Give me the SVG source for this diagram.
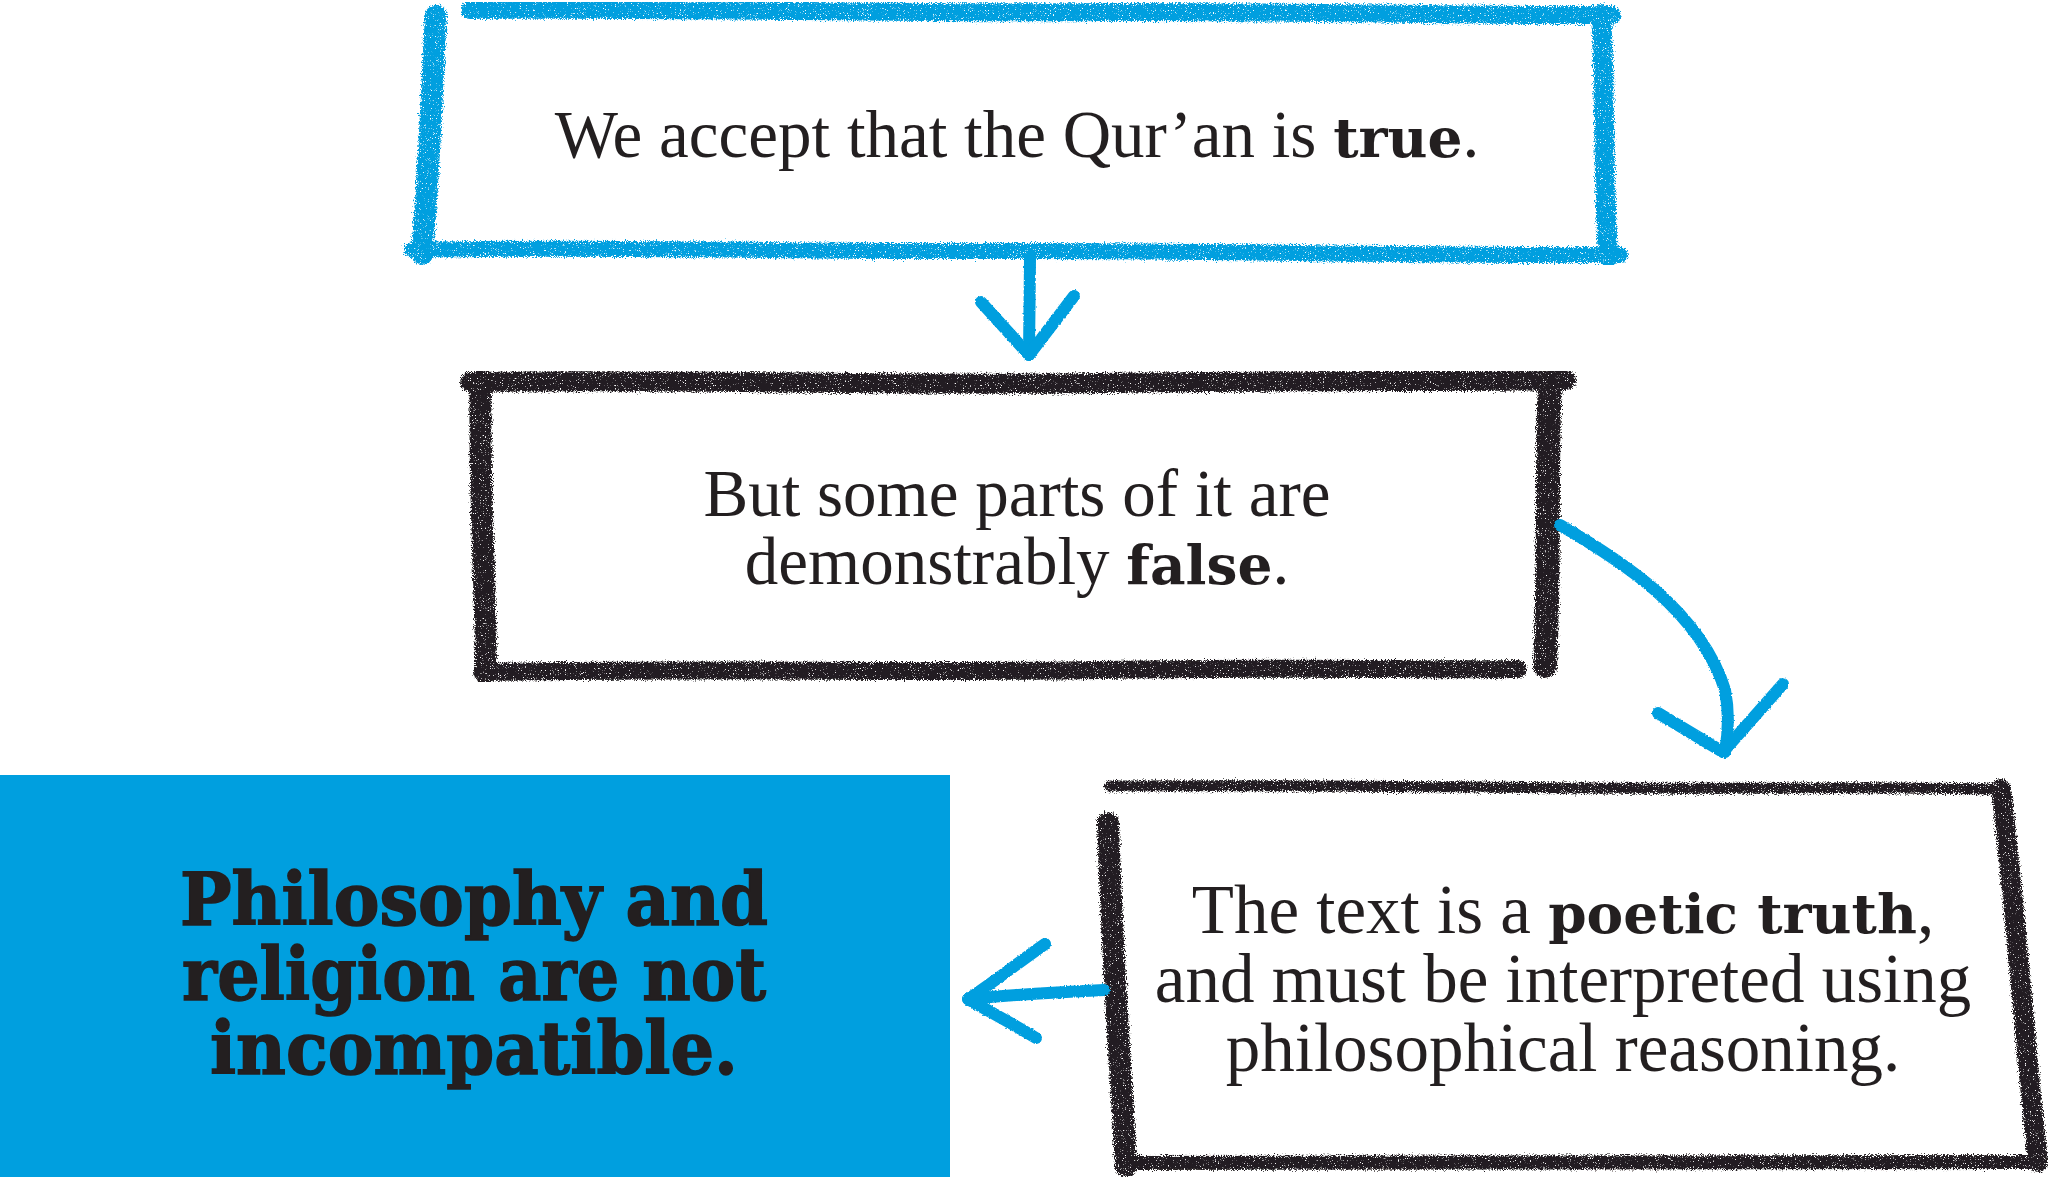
<svg xmlns="http://www.w3.org/2000/svg" width="2048" height="1177" viewBox="0 0 2048 1177">
<defs>
<filter id="crayon" x="-3%" y="-3%" width="106%" height="106%">
<feTurbulence type="fractalNoise" baseFrequency="0.9" numOctaves="2" seed="3" result="n"/>
<feDisplacementMap in="SourceGraphic" in2="n" scale="8" xChannelSelector="R" yChannelSelector="G" result="d"/>
<feTurbulence type="fractalNoise" baseFrequency="1.4" numOctaves="1" seed="9" result="g"/>
<feColorMatrix in="g" type="matrix" values="0 0 0 0 0  0 0 0 0 0  0 0 0 0 0  9 0 0 0 -2.3" result="ga"/>
<feComposite in="d" in2="ga" operator="in"/>
</filter>
<filter id="soft" x="-5%" y="-5%" width="110%" height="110%">
<feTurbulence type="fractalNoise" baseFrequency="0.6" numOctaves="1" seed="5" result="n"/>
<feDisplacementMap in="SourceGraphic" in2="n" scale="3" xChannelSelector="R" yChannelSelector="G"/>
</filter>
</defs>
<style>
.blue{fill:none;stroke:#009fdf;stroke-linecap:round;stroke-linejoin:round}
.black{fill:none;stroke:#231f20;stroke-linecap:round;stroke-linejoin:round}
.lt{font-family:"Liberation Serif","DejaVu Serif",serif;font-size:67px;fill:#231f20;text-anchor:middle}
.lt3{font-size:69px}
.bd{font-family:"DejaVu Serif",serif;font-weight:bold;font-size:55px}
.big{font-family:"DejaVu Serif",serif;font-weight:bold;font-size:72px;fill:#231f20;stroke:#231f20;stroke-width:1.5;text-anchor:middle}
.arrow{fill:none;stroke:#009fdf;stroke-width:12;stroke-linecap:round;stroke-linejoin:round}
</style>
<rect width="2048" height="1177" fill="#ffffff"/>

<g id="node1">
<g filter="url(#crayon)">
<path class="blue" stroke-width="18" d="M470,10 C700,8 900,14 1100,12 C1300,11 1450,16 1612,15"/>
<path class="blue" stroke-width="22" d="M436,16 C432,80 430,160 422,254"/>
<path class="blue" stroke-width="16" d="M412,250 C600,246 800,252 1000,251 C1200,250 1400,256 1620,255"/>
<path class="blue" stroke-width="20" d="M1601,14 C1605,80 1603,170 1608,257"/>
</g>
<text class="lt" x="1017" y="157">We accept that the Qur’an is <tspan class="bd">true</tspan>.</text>
</g>

<g id="node2">
<g filter="url(#crayon)">
<path class="black" stroke-width="20" d="M470,382 C700,379 900,386 1100,383 C1300,380 1450,382 1566,380"/>
<path class="black" stroke-width="22" d="M481,380 C478,480 486,580 486,673"/>
<path class="black" stroke-width="18" d="M482,672 C700,668 900,673 1100,670 C1300,667 1420,670 1518,669"/>
<path class="black" stroke-width="24" d="M1550,382 C1546,460 1550,560 1545,666"/>
</g>
<text class="lt" x="1017" y="516">But some parts of it are</text>
<text class="lt" x="1017" y="584">demonstrably <tspan class="bd">false</tspan>.</text>
</g>

<g id="node3">
<g filter="url(#crayon)">
<path class="black" stroke-width="11" d="M1110,786 C1350,784 1600,790 1800,788 C1900,787 1960,789 2001,789"/>
<path class="black" stroke-width="20" d="M2001,789 C2015,900 2025,1050 2038,1162"/>
<path class="black" stroke-width="14" d="M1122,1163 C1400,1160 1700,1164 2040,1162"/>
<path class="black" stroke-width="22" d="M1108,823 C1112,950 1120,1060 1126,1166"/>
</g>
<text class="lt lt3" x="1563" y="933">The text is a <tspan class="bd">poetic truth</tspan>,</text>
<text class="lt lt3" x="1563" y="1002">and must be interpreted using</text>
<text class="lt lt3" x="1563" y="1071">philosophical reasoning.</text>
</g>

<g id="node4">
<rect x="0" y="775" width="950" height="402" fill="#009fdf"/>
<text class="big" x="474" y="925" textLength="588" lengthAdjust="spacingAndGlyphs">Philosophy and</text>
<text class="big" x="474" y="1000" textLength="584" lengthAdjust="spacingAndGlyphs">religion are not</text>
<text class="big" x="474" y="1074" textLength="528" lengthAdjust="spacingAndGlyphs">incompatible.</text>
</g>

<g id="connectors" filter="url(#soft)">
<path class="arrow" d="M1030,259 L1029,355"/>
<path class="arrow" d="M981,302 L1029,355 L1074,296"/>
<path class="arrow" d="M1560,525 C1620,560 1700,610 1725,690 C1730,715 1728,735 1725,752"/>
<path class="arrow" d="M1658,713 L1723,752 L1783,684"/>
<path class="arrow" d="M1104,990 C1060,992 1010,995 968,999"/>
<path class="arrow" d="M1045,944 C1015,965 990,985 968,999 C990,1012 1015,1025 1036,1038"/>
</g>
</svg>
